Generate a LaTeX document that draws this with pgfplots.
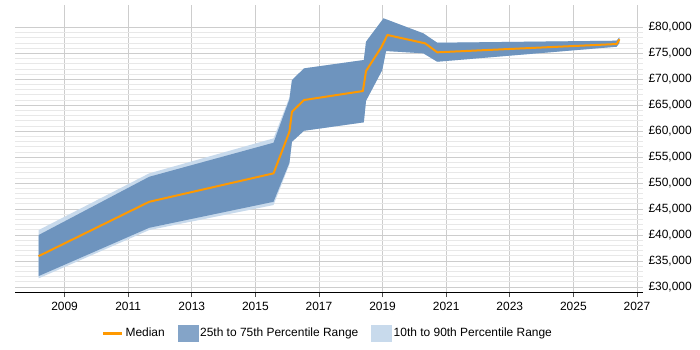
\documentclass[border=0pt]{standalone}
\usepackage{fontspec}
\setmainfont{Liberation Sans}
\usepackage{pgfplots}
\pgfplotsset{compat=1.18}
\definecolor{medc}{RGB}{255,153,0}
\definecolor{darkb}{RGB}{110,148,190}
\definecolor{lightb}{RGB}{200,218,236}
\definecolor{gridmaj}{RGB}{205,205,205}
\definecolor{gridmin}{RGB}{232,232,232}
\begin{document}
\begin{tikzpicture}
\path[use as bounding box] (0,0) rectangle (700bp,350bp);
\begin{axis}[
  scale only axis, width=628bp, height=287bp,
  at={(15bp,58bp)}, anchor=south west,
  xmin=2007.44, xmax=2027.19, ymin=29000, ymax=84300,
  font=\fontsize{12}{14}\selectfont,
  /pgf/number format/assume math mode=true,
  scaled y ticks=false, scaled x ticks=false,
  axis x line*=bottom,
  axis y line*=right,
  y axis line style={draw=none},
  x axis line style={black, line width=0.8bp},
  xtick={2009,2011,...,2027},
  x tick label style={/pgf/number format/1000 sep={}, yshift=-2bp},
  xtick align=outside, major tick length=5bp,
  xtick style={black!70, line width=0.6bp},
  ytick={30000,35000,...,80000},
  minor y tick num=4,
  ytick style={draw=none}, minor y tick style={draw=none},
  yticklabel={£\pgfmathprintnumber[1000 sep={,}]{\tick}},
  y tick label style={anchor=west, xshift=2bp},
  xmajorgrids, ymajorgrids, yminorgrids,
  major grid style={gridmaj, line width=0.6bp},
  minor grid style={gridmin, line width=0.6bp},
  legend style={at={(0.498,-0.143)}, anchor=center, draw=none,
    legend columns=3, font=\fontsize{12}{14}\selectfont,
    /tikz/every even column/.append style={column sep=11bp}},
  legend cell align=left,
]
% 10th-90th
\addplot[fill=lightb, draw=none, forget plot] coordinates {
(2008.18,40930) (2011.66,51860) (2015.57,58600) (2016.07,66500)
(2016.15,69840) (2016.53,72090) (2018.41,73700) (2018.48,77230)
(2019.03,81730) (2020.28,78840) (2020.72,77030) (2026.36,77420) (2026.45,78070)
(2026.45,77000) (2026.36,76260) (2020.72,73370) (2020.28,74990) (2019.11,75430)
(2018.99,71770) (2018.48,65850) (2018.41,61690) (2016.53,60070) (2016.15,57950)
(2016.07,53600) (2015.57,45750) (2011.66,40930) (2008.18,31620)
} -- cycle;
% 25th-75th
\addplot[fill=darkb, draw=none, forget plot] coordinates {
(2008.18,39970) (2011.66,51200) (2015.57,57760) (2016.07,66120)
(2016.15,69840) (2016.53,72090) (2018.41,73700) (2018.48,77230)
(2019.03,81730) (2020.28,78840) (2020.72,77030) (2026.36,77420) (2026.45,78070)
(2026.45,77000) (2026.36,76260) (2020.72,73370) (2020.28,74990) (2019.11,75430)
(2018.99,71770) (2018.48,65850) (2018.41,61690) (2016.53,60070) (2016.15,57950)
(2016.07,53900) (2015.57,46380) (2011.66,41370) (2008.18,32060)
} -- cycle;
% Median
\addplot[medc, line width=2bp, mark=none, line join=round,
  legend image code/.code={\draw[medc, line width=3bp] (0bp,0bp) -- (19bp,0bp);}] coordinates {
(2008.18,35900) (2011.66,46380) (2015.57,51860) (2016.07,59880)
(2016.15,63730) (2016.53,65990) (2018.38,67720) (2018.48,71580)
(2018.97,76260) (2019.15,78520) (2020.34,76910) (2020.72,75180)
(2026.36,76780) (2026.45,77690)
};
\addlegendentry{Median}
\addlegendimage{legend image code/.code={\fill[darkb!85!white] (0bp,-8bp) rectangle (20bp,8bp);}}
\addlegendentry{25th to 75th Percentile Range}
\addlegendimage{legend image code/.code={\fill[lightb] (0bp,-8bp) rectangle (20bp,8bp);}}
\addlegendentry{10th to 90th Percentile Range}
\end{axis}
\end{tikzpicture}
\end{document}
